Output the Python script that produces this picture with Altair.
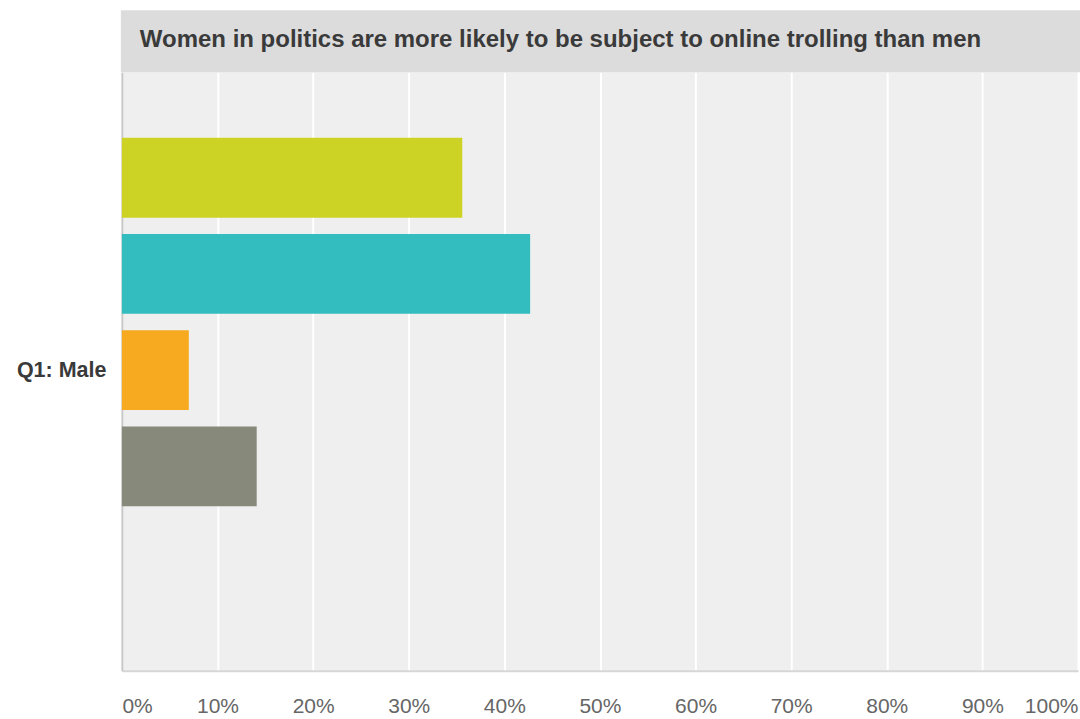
import altair as alt
import pandas as pd

title_text = "Women in politics are more likely to be subject to online trolling than men"
question = ["Q1: Male"]
answers = ["Agree strongly", "Agree", "Disagree", "Disagree strongly", "Don't know"]
shares = [0.356, 0.427, 0.070, 0.141, 0.0]
colors = ["#cdd324", "#33bdbf", "#f7aa1f", "#878a7a", "#9b7fb6"]
tick_values = [0.0, 0.1, 0.2, 0.3, 0.4, 0.5, 0.6, 0.7, 0.8, 0.9, 1.0]

W = 957
H = 599
FONT = "Liberation Sans"

bars_df = pd.DataFrame({
    "question": question * len(answers),
    "answer": answers,
    "share": shares,
})
title_df = pd.DataFrame({"title": [title_text]})

band = alt.Chart(title_df).mark_rect(color="#dcdcdc").encode(
    x=alt.value(-1), x2=alt.value(W + 2), y=alt.value(-62), y2=alt.value(0)
)

title = alt.Chart(title_df).mark_text(
    align="left", baseline="alphabetic", font=FONT, fontSize=24,
    fontWeight="bold", color="#3a3a3a"
).encode(x=alt.value(18), y=alt.value(-25), text="title:N")

bars = alt.Chart(bars_df).mark_bar().encode(
    x=alt.X("share:Q",
            scale=alt.Scale(domain=[0, 1], nice=False),
            axis=alt.Axis(values=tick_values, format=".0%", title=None,
                          grid=True, gridColor="#ffffff", gridWidth=2,
                          ticks=False, labelFlush=True, labelPadding=25,
                          labelFont=FONT, labelFontSize=21, labelColor="#666666",
                          domainColor="#d6d6d6", domainWidth=2)),
    y=alt.Y("question:N",
            scale=alt.Scale(paddingInner=0, paddingOuter=0),
            axis=alt.Axis(title=None, ticks=False, labelPadding=16,
                          labelFont=FONT, labelFontSize=21.5, labelFontWeight="bold",
                          labelColor="#3a3a3a", domainColor="#c8c8c8", domainWidth=2,
                          grid=False)),
    yOffset=alt.YOffset("answer:N", sort=answers,
                        scale=alt.Scale(paddingInner=0.17, paddingOuter=0.695, align=0.49)),
    color=alt.Color("answer:N", sort=answers,
                    scale=alt.Scale(domain=answers, range=colors), legend=None),
)

chart = alt.layer(band, title, bars).properties(
    width=W, height=H,
    padding={"left": 16, "top": 10, "right": 0, "bottom": 0},
    background="#ffffff",
).configure_view(fill="#efefef", stroke=None)

chart.save("out.html", embed_options={"renderer": "svg", "actions": False})
